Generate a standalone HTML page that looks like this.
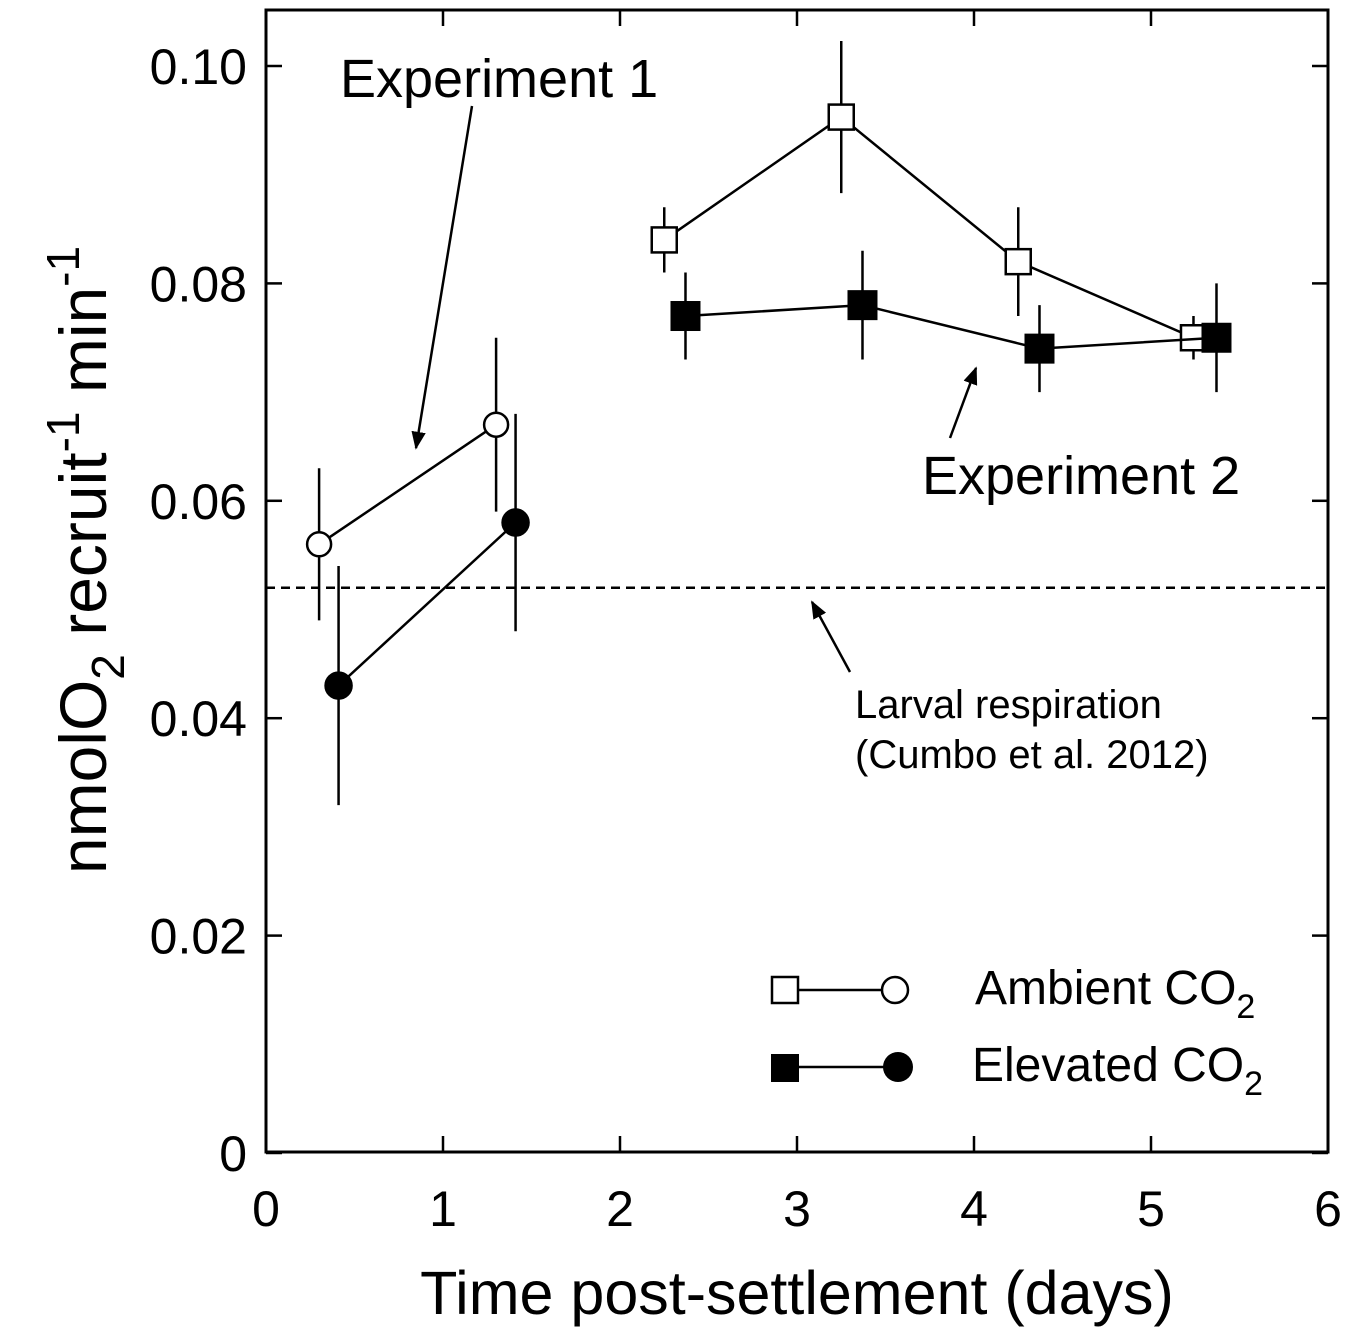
<!DOCTYPE html>
<html><head><meta charset="utf-8"><style>
body{margin:0;background:#fff}
svg{display:block;font-family:"Liberation Sans",Arial,sans-serif}
</style></head><body>
<svg id="chart" width="1350" height="1331" viewBox="0 0 1350 1331" xmlns="http://www.w3.org/2000/svg">
<defs>
<marker id="ahb" viewBox="0 0 10 10" refX="9" refY="5" markerWidth="18" markerHeight="18" markerUnits="userSpaceOnUse" orient="auto"><path d="M0,1 L10,5 L0,9 Z" fill="#000"/></marker></defs>
<g id="plot"></g>
<rect x="266" y="10" width="1062" height="1142" fill="none" stroke="#000" stroke-width="3"/>
<text x="797" y="1314" font-size="61" text-anchor="middle">Time post-settlement (days)</text>
<text transform="translate(106,560) rotate(-90)" font-size="66" text-anchor="middle">nmolO<tspan font-size="46" dy="18">2</tspan><tspan dy="-18"> recruit</tspan><tspan font-size="46" dy="-27">-1</tspan><tspan dy="27"> min</tspan><tspan font-size="46" dy="-27">-1</tspan></text>
<text x="340" y="97" font-size="54">Experiment 1</text>
<line x1="472" y1="106" x2="416" y2="448" stroke="#000" stroke-width="2.5" marker-end="url(#ahb)"/>
<text x="922" y="494" font-size="54">Experiment 2</text>
<line x1="950" y1="438" x2="976" y2="368" stroke="#000" stroke-width="2.5" marker-end="url(#ahb)"/>
<text x="855" y="718" font-size="40">Larval respiration</text>
<text x="855" y="768" font-size="40">(Cumbo et al. 2012)</text>
<line x1="850" y1="672" x2="812" y2="602" stroke="#000" stroke-width="2.5" marker-end="url(#ahb)"/>
<g>
<line x1="785" y1="990" x2="895" y2="990" stroke="#000" stroke-width="2.5"/>
<rect x="772" y="977" width="26" height="26" fill="#fff" stroke="#000" stroke-width="2.5"/>
<circle cx="895" cy="990" r="13" fill="#fff" stroke="#000" stroke-width="2.5"/>
<text x="975" y="1004" font-size="48">Ambient CO<tspan font-size="34" dy="14">2</tspan></text>
<line x1="785" y1="1067" x2="898" y2="1067" stroke="#000" stroke-width="2.5"/>
<rect x="771" y="1054" width="28" height="28" fill="#000"/>
<circle cx="898" cy="1067" r="15" fill="#000"/>
<text x="972" y="1081" font-size="48">Elevated CO<tspan font-size="34" dy="14">2</tspan></text>
</g>
</svg>
<script>
const xTicks=[0,1,2,3,4,5,6];
const yTicks=[0,0.02,0.04,0.06,0.08,0.10];
const yTickLabels=["0","0.02","0.04","0.06","0.08","0.10"];
const amb1X=[0.3,1.3]; const amb1Y=[0.056,0.067]; const amb1E=[0.007,0.008];
const elv1X=[0.41,1.41]; const elv1Y=[0.043,0.058]; const elv1E=[0.011,0.010];
const amb2X=[2.25,3.25,4.25,5.24]; const amb2Y=[0.084,0.0953,0.082,0.075]; const amb2E=[0.003,0.007,0.005,0.002];
const elv2X=[2.37,3.37,4.37,5.37]; const elv2Y=[0.077,0.078,0.074,0.075]; const elv2E=[0.004,0.005,0.004,0.005];
const larvalY=0.052;
const X=v=>266+v*177, Y=v=>1153-v*10870;
const NS="http://www.w3.org/2000/svg", g=document.getElementById('plot');
function el(t,a){const e=document.createElementNS(NS,t);for(const k in a)e.setAttribute(k,a[k]);g.appendChild(e);return e;}
xTicks.forEach(t=>{
 const l=el('line',{x1:X(t),x2:X(t),y1:1152,y2:1136,stroke:'#000','stroke-width':2.5});
 
 
 const l2=el('line',{x1:X(t),x2:X(t),y1:10,y2:26,stroke:'#000','stroke-width':2.5});
 
 
 const tx=el('text',{x:X(t),y:1226,'font-size':50,'text-anchor':'middle'});tx.textContent=t;
 
 
});
yTicks.forEach((t,i)=>{
 const l=el('line',{x1:266,x2:282,y1:Y(t),y2:Y(t),stroke:'#000','stroke-width':2.5});
 
 
 const l2=el('line',{x1:1312,x2:1328,y1:Y(t),y2:Y(t),stroke:'#000','stroke-width':2.5});
 
 
 const tx=el('text',{x:247,y:Y(t)+18,'font-size':50,'text-anchor':'end'});tx.textContent=yTickLabels[i];
 
 
});
const dl=el('line',{x1:266,x2:1328,y1:Y(larvalY),y2:Y(larvalY),stroke:'#000','stroke-width':2.5,'stroke-dasharray':'9,6'});


function series(xs,ys,es,shape,fill,name){
 const pl=el('polyline',{points:xs.map((x,i)=>X(x)+','+Y(ys[i])).join(' '),fill:'none',stroke:'#000','stroke-width':2.5});
 
 
 xs.forEach((x,i)=>{
  const e=el('line',{x1:X(x),x2:X(x),y1:Y(ys[i]+es[i]),y2:Y(ys[i]-es[i]),stroke:'#000','stroke-width':2.5});
  
  
 });
 xs.forEach((x,i)=>{
  let m;
  if(shape==='c') m=el('circle',{cx:X(x),cy:Y(ys[i]),r:fill?13:12,fill:fill?'#000':'#fff',stroke:'#000','stroke-width':2.5});
  else { const s=fill?30:25; m=el('rect',{x:X(x)-s/2,y:Y(ys[i])-s/2,width:s,height:s,fill:fill?'#000':'#fff',stroke:fill?'none':'#000','stroke-width':2.5}); }
  
  
 });
}
series(amb1X,amb1Y,amb1E,'c',false,'ambient-exp1');
series(elv1X,elv1Y,elv1E,'c',true,'elevated-exp1');
series(amb2X,amb2Y,amb2E,'s',false,'ambient-exp2');
series(elv2X,elv2Y,elv2E,'s',true,'elevated-exp2');
</script>
</body></html>
